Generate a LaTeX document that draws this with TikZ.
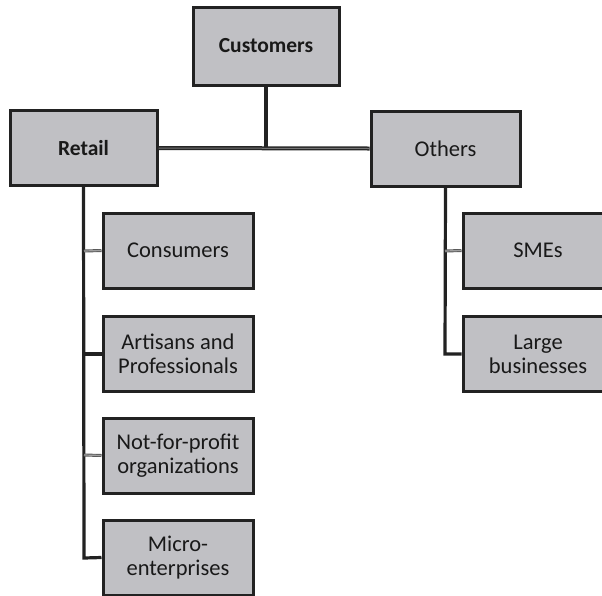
\documentclass[tikz,border=0pt]{standalone}
\usepackage{fontspec}
\setmainfont{Carlito}
\definecolor{boxfill}{HTML}{C0C0C4}
\definecolor{boxline}{HTML}{222222}
\begin{document}
\begin{tikzpicture}[x=1pt,y=-1pt,
  box/.style={draw=boxline, line width=3pt, fill=boxfill, rectangle,
    minimum width=147pt, minimum height=75pt, inner sep=0pt,
    align=center, font=\fontsize{22.5}{24}\selectfont, text=black!90},
  boldbox/.style={box, font=\bfseries\fontsize{21.5}{24}\selectfont},
  darkline/.style={draw=boxline, line width=3.2pt},
  grayline/.style={draw=black!65, double=gray!75, double distance=1.2pt, line width=0.9pt},
  midline/.style={draw=black!85, double=black!55, double distance=1pt, line width=1.5pt}]
\useasboundingbox (0,0) rectangle (602,595);
\clip (0,0) rectangle (602,595);
\fill[white] (0,0) rectangle (602,595);
\coordinate (J) at (266,148);
\coordinate (LB) at (84,558);
\coordinate (RB) at (445,354);
\coordinate (L1) at (84,251);
\coordinate (L2) at (84,354);
\coordinate (L3) at (84,455);
\coordinate (R1) at (445,251);
\node[boldbox, minimum width=146pt, minimum height=78pt] (cust) at (266,46) {Customers};
\node[boldbox] (retail) at (83.5,148) {Retail};
\node[box, minimum width=149pt] (others) at (445.5,148.5) {Others};
\node[box, minimum width=150pt] (cons) at (178,250.5) {Consumers};
\node[box, minimum width=150pt] (art) at (178,354) {Artisans and\\Professionals};
\node[box, minimum width=150pt] (npo) at (178,455.5) {Not-for-profit\\organizations};
\node[box, minimum width=150pt] (micro) at (178,557.5) {Micro-\\enterprises};
\node[box, minimum width=150pt] (sme) at (538,250.5) {SMEs};
\node[box, minimum width=150pt] (large) at (538,354) {Large\\businesses};
\draw[darkline] (cust.south) -- (J);
\draw[midline] (retail.east) -- (others.west);
\draw[darkline] (retail.south) -- (LB) -- (micro.west);
\draw[darkline] (L2) -- (art.west);
\draw[grayline] (L1) -- (cons.west);
\draw[grayline] (L3) -- (npo.west);
\draw[darkline] (others.south) -- (RB) -- (large.west);
\draw[grayline] (R1) -- (sme.west);
\end{tikzpicture}
\end{document}
